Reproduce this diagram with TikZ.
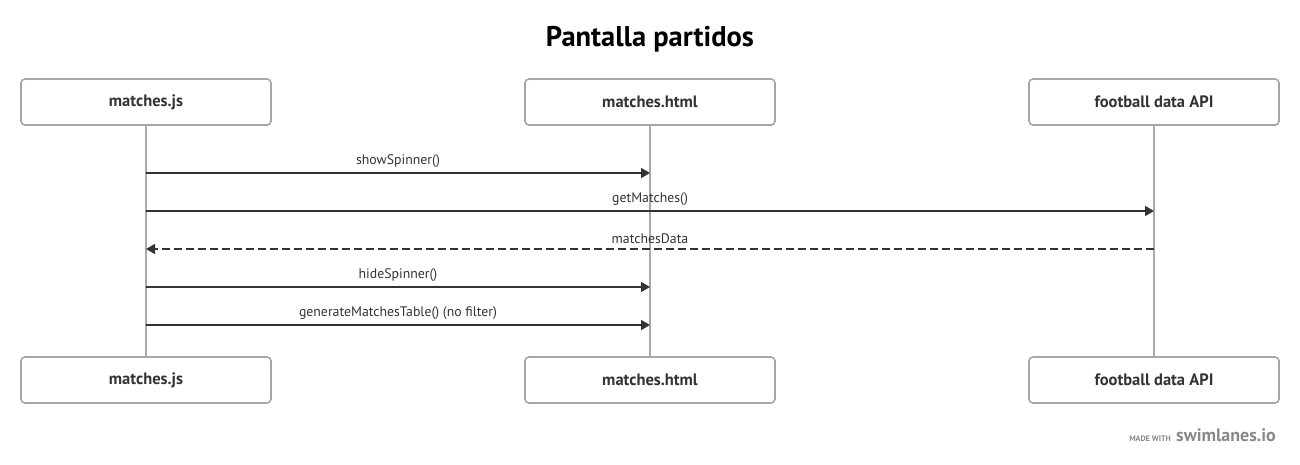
\documentclass[tikz,border=0pt]{standalone}
\usepackage{fontspec}
\setmainfont{PT Sans}
\usetikzlibrary{arrows.meta}
\definecolor{boxgray}{HTML}{A6A6A6}
\definecolor{linegray}{HTML}{AAAAAA}
\definecolor{ink}{HTML}{333333}
\definecolor{footgray}{HTML}{888888}
\tikzset{
  actor/.style={draw=boxgray, line width=1.6pt, rounded corners=4pt, fill=white,
    minimum width=250pt, minimum height=46pt, inner sep=0pt,
    font=\fontsize{16.5}{19}\selectfont\bfseries, text=ink},
  lifeline/.style={draw=linegray, line width=1.6pt},
  msg/.style={draw=ink, line width=1.6pt, -{Triangle[length=9pt,width=10pt]}},
  reply/.style={msg, dash pattern=on 8pt off 4pt},
  lbl/.style={font=\fontsize{13.8}{16}\selectfont, text=ink, inner sep=0pt}
}
\begin{document}
\begin{tikzpicture}[x=1pt,y=-1pt]
\useasboundingbox (0,0) rectangle (1300,464);
\node[font=\fontsize{28.5}{32}\selectfont\bfseries, text=black] (title) at (650,39) {Pantalla partidos};
% lifelines
\coordinate (jsT) at (146,125); \coordinate (jsB) at (146,357);
\coordinate (htT) at (650,125); \coordinate (htB) at (650,357);
\coordinate (apT) at (1154,125); \coordinate (apB) at (1154,357);
\draw[lifeline] (jsT) -- (jsB);
\draw[lifeline] (htT) -- (htB);
\draw[lifeline] (apT) -- (apB);
% actors
\node[actor] (js1) at (146,102) {matches.js};
\node[actor] (ht1) at (650,102) {matches.html};
\node[actor] (ap1) at (1154,102) {football data API};
\node[actor] (js2) at (146,380) {matches.js};
\node[actor] (ht2) at (650,380) {matches.html};
\node[actor] (ap2) at (1154,380) {football data API};
% message points
\coordinate (a1) at (146,173); \coordinate (b1) at (650,173);
\coordinate (a2) at (146,211); \coordinate (b2) at (1154,211);
\coordinate (a3) at (1154,249); \coordinate (b3) at (146,249);
\coordinate (a4) at (146,287); \coordinate (b4) at (650,287);
\coordinate (a5) at (146,325); \coordinate (b5) at (650,325);
\draw[msg] (a1) -- (b1) node[lbl, midway, above=4.5pt] (l1) {showSpinner()};
\draw[msg] (a2) -- (b2) node[lbl, midway, above=4.5pt] (l2) {getMatches()};
\draw[reply] (a3) -- (b3) node[lbl, midway, above=4.5pt] (l3) {matchesData};
\draw[msg] (a4) -- (b4) node[lbl, midway, above=4.5pt] (l4) {hideSpinner()};
\draw[msg] (a5) -- (b5) node[lbl, midway, above=4.5pt] (l5) {generateMatchesTable() (no filter)};
% footer
\node[anchor=base east, font=\fontsize{18}{20}\selectfont\bfseries, text=footgray, inner sep=0pt] (sw) at (1276,441) {swimlanes.io};
\node[anchor=base east, font=\fontsize{8}{9}\selectfont\bfseries, text=footgray, inner sep=0pt] (mw) at ([xshift=-5pt]sw.base west) {MADE WITH};
\end{tikzpicture}
\end{document}
